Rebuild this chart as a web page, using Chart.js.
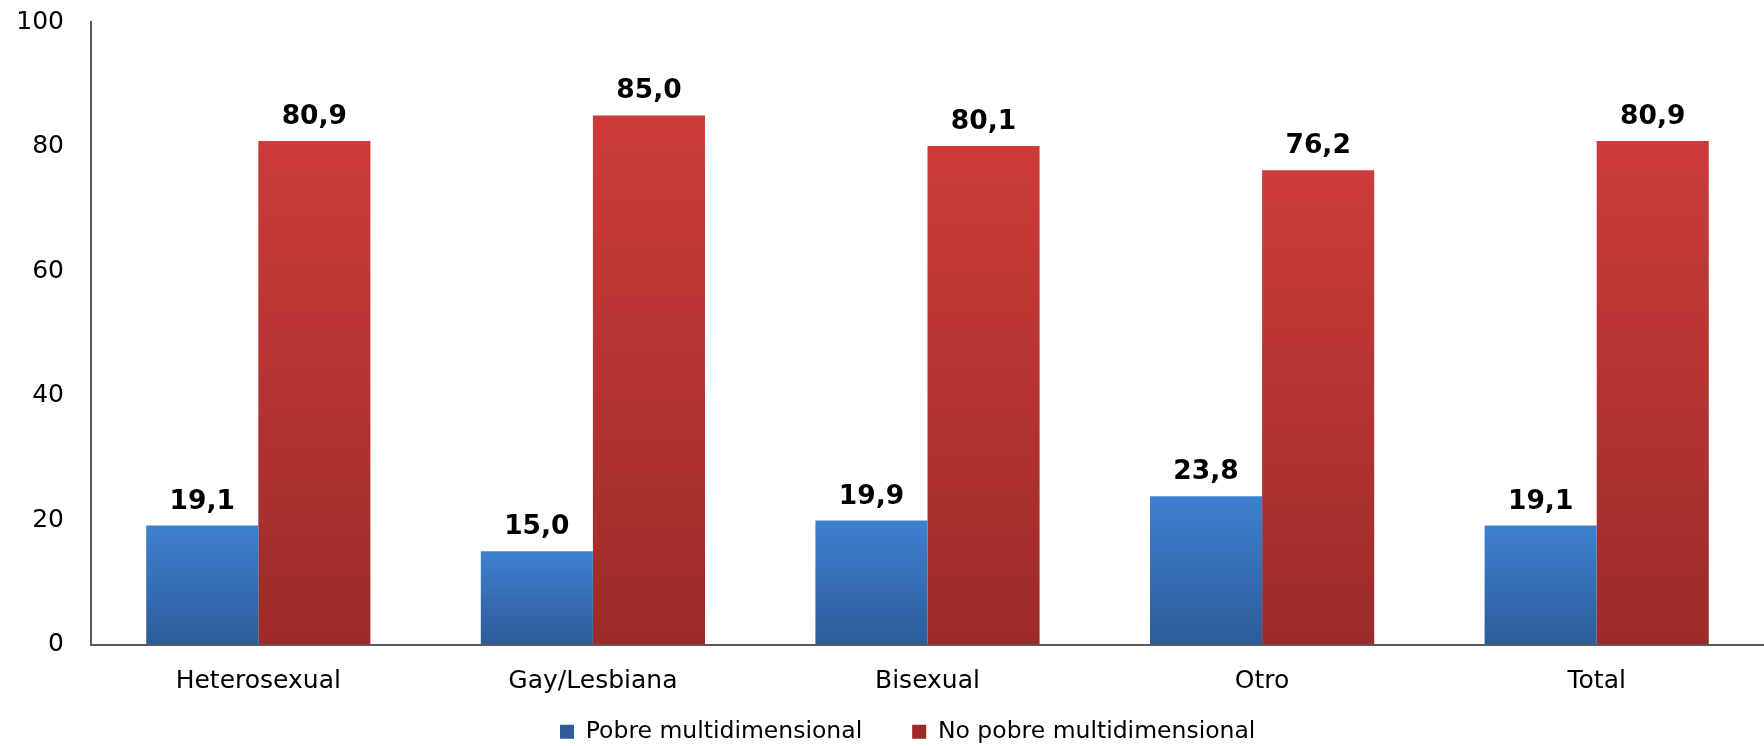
<!DOCTYPE html>
<html>
<head>
<meta charset="utf-8">
<script src="https://cdn.jsdelivr.net/npm/chart.js@4"></script>
<style>
  html, body { margin: 0; padding: 0; background: #fff; overflow: hidden; }
  #wrap { width: 1764px; height: 746px; }
</style>
</head>
<body>
<div id="wrap"><canvas id="myChart" width="1764" height="746"></canvas></div>
<script>
// chart data
const categories = ["Heterosexual", "Gay/Lesbiana", "Bisexual", "Otro", "Total"];
const pobre = [19.1, 15.0, 19.9, 23.8, 19.1];
const noPobre = [80.9, 85.0, 80.1, 76.2, 80.9];
const seriesNames = ["Pobre multidimensional", "No pobre multidimensional"];
const yMin = 0;
const yMax = 100;
const yStep = 20;

const FONT = '"DejaVu Sans", Verdana, sans-serif';

// vertical gradient per bar, from its top to the zero line
function barGradient(top, bottom, flat) {
  return (c) => {
    const chart = c.chart;
    if (c.type !== "data" || !chart.chartArea) return flat;
    const y = chart.scales.y;
    const v = c.dataset.data[c.dataIndex];
    const g = chart.ctx.createLinearGradient(0, y.getPixelForValue(v), 0, y.getPixelForValue(0));
    g.addColorStop(0, top);
    g.addColorStop(1, bottom);
    return g;
  };
}

// numbers above the bars, with a decimal comma
const valueLabels = {
  id: "valueLabels",
  afterDatasetsDraw(chart) {
    const ctx = chart.ctx;
    ctx.save();
    ctx.font = "bold 26.5px " + FONT;
    ctx.fillStyle = "#000";
    ctx.textAlign = "center";
    ctx.textBaseline = "alphabetic";
    chart.data.datasets.forEach((ds, i) => {
      chart.getDatasetMeta(i).data.forEach((bar, j) => {
        ctx.fillText(ds.data[j].toFixed(1).replace(".", ","), bar.x, bar.y - 17);
      });
    });
    ctx.restore();
  },
};

// put the legend row where the original has it
const legendPlace = {
  id: "legendPlace",
  afterLayout(chart) {
    const lg = chart.legend;
    if (!lg) return;
    const pad = lg.options.labels.padding;
    const h = lg.bottom - lg.top;
    lg.left = 560 - pad;
    lg.top = 732 - pad - 12;
    lg.bottom = lg.top + h;
  },
};

const ctx = document.getElementById("myChart").getContext("2d");
new Chart(ctx, {
  type: "bar",
  data: {
    labels: categories,
    datasets: [
      {
        label: seriesNames[0],
        data: pobre,
        backgroundColor: barGradient("#3e80d0", "#2d5c99", "#3a74c0"),
        borderWidth: 0,
        categoryPercentage: 0.67,
        barPercentage: 1.0,
      },
      {
        label: seriesNames[1],
        data: noPobre,
        backgroundColor: barGradient("#cc3c39", "#9b2b29", "#c23835"),
        borderWidth: 0,
        categoryPercentage: 0.67,
        barPercentage: 1.0,
      },
    ],
  },
  options: {
    responsive: false,
    animation: false,
    layout: {
      padding: { left: 17, right: -18, top: 22, bottom: -56 },
    },
    scales: {
      x: {
        grid: { display: false, drawTicks: false },
        border: { display: true, color: "#595959", width: 2 },
        ticks: {
          color: "#000",
          padding: 22,
          font: { family: FONT, size: 25 },
        },
      },
      y: {
        min: yMin,
        max: yMax,
        grid: { display: false, drawTicks: false },
        border: { display: true, color: "#595959", width: 2 },
        ticks: {
          stepSize: yStep,
          color: "#000",
          padding: 27,
          font: { family: FONT, size: 25 },
        },
        afterFit(scale) {
          scale.width = 74;
          scale.paddingTop = 0;
        },
      },
    },
    plugins: {
      tooltip: { enabled: false },
      legend: {
        position: "bottom",
        align: "start",
        labels: {
          color: "#000",
          boxWidth: 14,
          boxHeight: 14,
          padding: 50,
          font: { family: FONT, size: 23.5 },
        },
      },
    },
  },
  plugins: [valueLabels, legendPlace],
});
</script>
</body>
</html>
